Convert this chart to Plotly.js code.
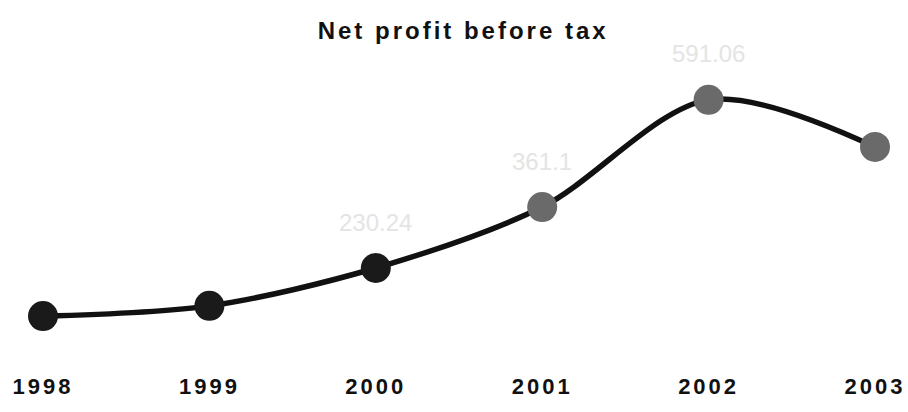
<!DOCTYPE html>
<html>
<head>
<meta charset="utf-8">
<script src="https://cdn.plot.ly/plotly-3.0.1.min.js"></script>
<style>
  html, body { margin: 0; padding: 0; background: #fff; }
  #chart { width: 908px; height: 412px; }
  .gtitle { letter-spacing: 3px; }
  .xtick text { letter-spacing: 3px; }
</style>
</head>
<body>
<div id="chart"></div>
<script>
const years = [1998, 1999, 2000, 2001, 2002, 2003];
const tickLabels = ["1998", "1999", "2000", "2001", "2002", "2003"];
const profit = [127, 149, 230.24, 361.1, 591.06, 490];
const labelYears = [2000, 2001, 2002];
const labelValues = [230.24, 361.1, 591.06];
const labelTexts = ["230.24", "361.1", "591.06"];
const markerColors = ["#1a1a1a", "#1a1a1a", "#1a1a1a", "#6a6a6a", "#6a6a6a", "#6a6a6a"];

const trace = {
  x: years,
  y: profit,
  type: "scatter",
  mode: "lines+markers",
  line: { shape: "spline", smoothing: 0.9, color: "#111", width: 5.5 },
  marker: { size: 30, color: markerColors, line: { width: 0 } },
  cliponaxis: false,
  hoverinfo: "none"
};

const annotations = labelYears.map((yr, i) => ({
  x: yr, y: labelValues[i], xref: "x", yref: "y",
  text: labelTexts[i], showarrow: false, yshift: 46,
  font: { family: "Arial, Liberation Sans, sans-serif", size: 24, color: "#e4e4e4" }
}));

const layout = {
  width: 908, height: 412,
  paper_bgcolor: "#fff", plot_bgcolor: "#fff",
  margin: { l: 43, r: 33, t: 60, b: 47 },
  showlegend: false,
  title: {
    text: "<b>Net profit before tax</b>",
    x: 0.505, xref: "paper", xanchor: "center",
    y: 0.947, yref: "container",
    font: { family: "Arial, Liberation Sans, sans-serif", size: 24, color: "#111" }
  },
  xaxis: {
    range: [1998, 2003],
    tickvals: years, ticktext: tickLabels.map(t => "<b>" + t + "</b>"),
    showgrid: false, zeroline: false, showline: false, ticks: "",
    ticklabeloverflow: "allow", ticklabelstandoff: 6,
    tickfont: { family: "Arial, Liberation Sans, sans-serif", size: 22, color: "#111" },
    fixedrange: true
  },
  yaxis: {
    range: [22.1, 676.6],
    showgrid: false, zeroline: false, showline: false, showticklabels: false, ticks: "",
    fixedrange: true
  },
  annotations: annotations
};

Plotly.newPlot("chart", [trace], layout, { displayModeBar: false, staticPlot: true });
</script>
</body>
</html>
